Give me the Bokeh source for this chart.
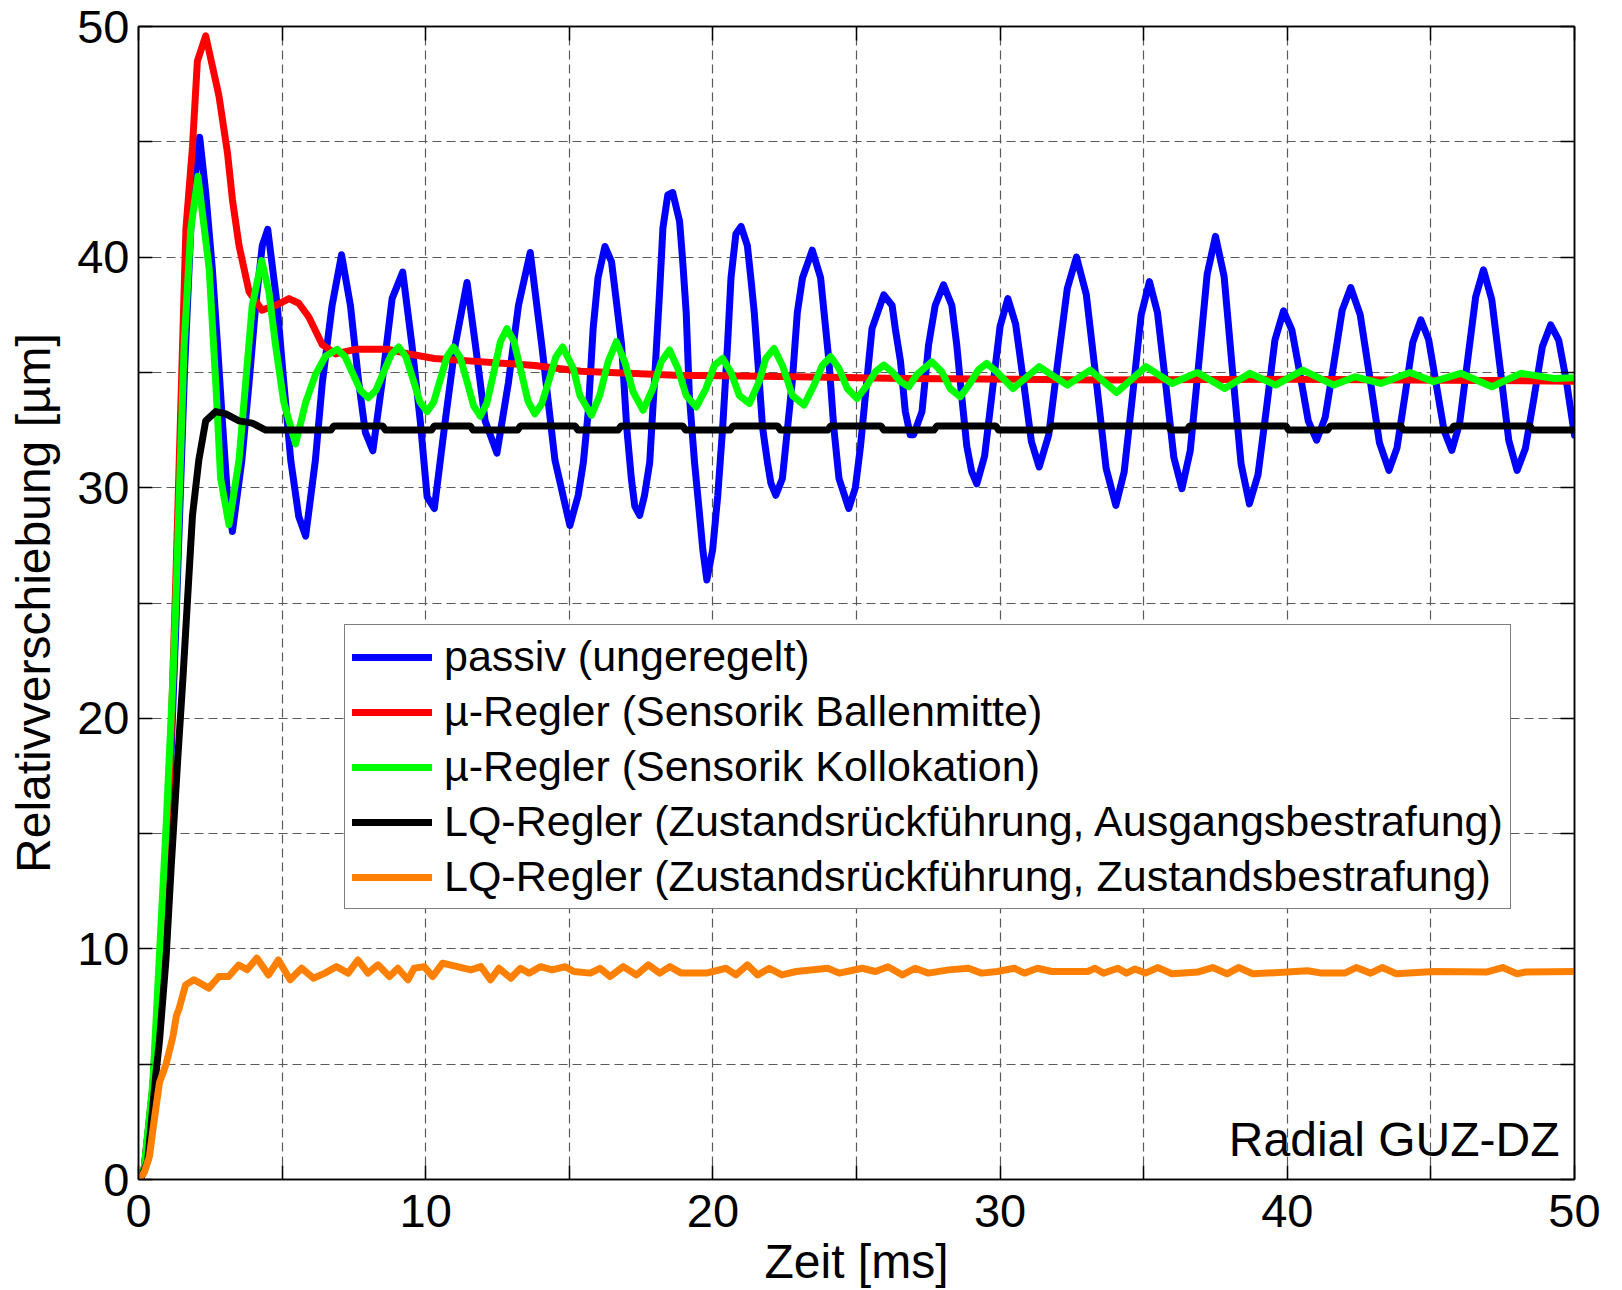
from bokeh.plotting import figure
from bokeh.models import Legend, LegendItem, LinearAxis, FixedTicker, Range1d, Label
from bokeh.embed import file_html
from bokeh.resources import INLINE

# ---------------- data ----------------
series_labels = [
    "passiv (ungeregelt)",
    "µ-Regler (Sensorik Ballenmitte)",
    "µ-Regler (Sensorik Kollokation)",
    "LQ-Regler (Zustandsrückführung, Ausgangsbestrafung)",
    "LQ-Regler (Zustandsrückführung, Zustandsbestrafung)",
]

t_passiv = [0, 0.2, 0.5, 0.8, 1.0, 1.3, 1.6, 1.85, 2.13, 2.34, 2.57, 2.75, 2.92, 3.1, 3.27,
            3.6, 3.85, 4.08, 4.31, 4.5, 4.83, 5.06, 5.3, 5.58, 5.82, 6.16, 6.4, 6.74, 7.07,
            7.38, 7.67, 7.9, 8.16, 8.48, 8.83, 9.2, 9.52, 9.81, 10.05, 10.3, 10.68, 11.03,
            11.44, 11.73, 12.07, 12.48, 12.88, 13.23, 13.64, 14.04, 14.5,
            15.02, 15.31, 15.49, 15.66, 15.83, 16.0, 16.24, 16.47, 16.64, 16.82, 17.0, 17.16,
            17.28, 17.45, 17.62, 17.8, 17.97, 18.14, 18.26, 18.43, 18.6, 18.84, 18.95, 19.07,
            19.18, 19.36, 19.53, 19.65, 19.79, 19.99, 20.17, 20.34, 20.51, 20.63, 20.8, 20.98,
            21.2, 21.32, 21.44, 21.61, 21.73, 21.9, 22.02, 22.19, 22.42, 22.6, 22.77, 22.94,
            23.12, 23.46, 23.75, 23.87, 24.04, 24.21, 24.39, 24.73, 24.96, 25.14, 25.31, 25.54,
            25.95, 26.24, 26.35, 26.53, 26.7, 26.87, 26.99, 27.28, 27.51, 27.74, 28.03, 28.32,
            28.49, 28.66, 28.84, 29.01, 29.19,
            29.46, 29.73, 30.0, 30.27, 30.54, 30.82, 31.09, 31.36, 31.69, 32.01, 32.34, 32.66,
            33.0, 33.35, 33.69, 34.03, 34.32, 34.62, 34.91, 35.2, 35.48, 35.77, 36.05, 36.33,
            36.62, 36.92, 37.21, 37.5, 37.8, 38.09, 38.39, 38.68, 38.98, 39.28, 39.57, 39.87,
            40.16, 40.45, 40.73, 41.02, 41.32, 41.62, 41.91, 42.21, 42.54, 42.88, 43.21, 43.54,
            43.82, 44.1, 44.37, 44.65, 44.92, 45.19, 45.46, 45.73, 46.0, 46.28, 46.56, 46.83,
            47.12, 47.42, 47.71, 48.0, 48.29, 48.59, 48.88, 49.17, 49.45, 49.72, 50]
y_passiv = [0, 0.5, 4, 10, 14, 24, 35, 42, 45.2, 42.8, 39.5, 36.2, 32.9, 29.6, 28.1,
            31.2, 34.55, 37.9, 40.5, 41.2, 37.9, 34.55, 31.2, 28.75, 27.9, 31.2, 34.55, 37.9, 40.1,
            37.9, 34.55, 32.4, 31.6, 34.55, 38.2, 39.35, 36.2, 32.9, 29.6, 29.1, 32.9, 36.2,
            38.9, 36.2, 32.9, 31.5, 34.55, 37.9, 40.2, 36.2, 31.2,
            28.36, 29.67, 31.1, 33.3, 36.9, 39.1, 40.46, 39.8, 38.07, 36.2, 32.6, 30.4,
            29.2, 28.8, 29.67, 31.1, 34.7, 38.4, 41.26, 42.7, 42.8, 41.55, 39.8, 37.6,
            34.0, 31.1, 28.9, 27.3, 26.0, 27.3, 29.67, 32.6, 36.2, 39.1, 41.0, 41.33,
            40.5, 39.1, 37.6, 34.7, 32.6, 31.1, 30.2, 29.67, 30.4, 32.6, 34.7, 37.6,
            39.1, 40.3, 39.1, 37.6, 35.5, 32.6, 30.4, 29.1, 30.0, 31.8, 34.0, 36.9,
            38.36, 37.9, 36.9, 35.5, 33.3, 32.3, 32.3, 33.3, 36.2, 37.9, 38.8, 37.9,
            36.2, 34.0, 31.8, 30.7, 30.17,
            31.37, 34.19, 37.0, 38.2, 37.1, 34.55, 32.0, 30.9, 32.27, 35.45, 38.64, 40.0,
            38.38, 34.62, 30.85, 29.23, 30.69, 34.09, 37.48, 38.94, 37.59, 34.45, 31.31, 29.96,
            31.6, 35.43, 39.26, 40.9, 39.16, 35.1, 31.04, 29.3, 30.56, 33.49, 36.41, 37.67,
            36.83, 34.87, 32.9, 32.06, 33.05, 35.37, 37.69, 38.68, 37.49, 34.72, 31.94, 30.75,
            31.73, 34.02, 36.3, 37.28, 36.43, 34.45, 32.47, 31.62, 32.79, 35.54, 38.28, 39.45,
            38.15, 35.1, 32.06, 30.75, 31.7, 33.9, 36.11, 37.06, 36.4, 34.6, 32.28]

t_ballen = [0, 0.2, 0.5, 0.8, 1.0, 1.3, 1.65, 1.88, 2.05, 2.34, 2.8, 3.1, 3.27, 3.5, 3.85,
            4.3, 4.77, 5.24, 5.58, 5.93, 6.4, 6.86, 7.55, 8.7, 9.4, 9.87, 10.3, 11.5, 12.65,
            13.8, 15.4, 18.7, 22.96, 26.6, 33.4, 40, 50]
y_ballen = [0, 0.5, 4, 10, 14, 26, 41.2, 44.8, 48.5, 49.6, 47.0, 44.5, 42.5, 40.5, 38.5,
            37.7, 37.9, 38.2, 38.0, 37.4, 36.2, 35.8, 36.0, 36.0, 35.8, 35.7, 35.6, 35.5, 35.4,
            35.3, 35.05, 34.88, 34.81, 34.74, 34.67, 34.7, 34.62]

t_kolloc = [0, 0.2, 0.5, 0.96, 1.2, 1.3, 1.59, 1.82, 2.07, 2.46, 2.69, 2.86, 3.15, 3.5, 3.73,
            3.96, 4.29, 4.54, 4.77, 5.06, 5.47, 5.82, 6.16, 6.51, 6.92,
            7.19, 7.46, 7.73, 8.0, 8.27, 8.53, 8.8, 9.06, 9.31, 9.56, 9.8, 10.05,
            10.28, 10.51, 10.74, 10.97, 11.2, 11.44, 11.67, 11.9, 12.13, 12.37, 12.6, 12.83,
            13.07, 13.32, 13.56, 13.8, 14.04, 14.29, 14.53, 14.77,
            15.14, 15.37, 15.77, 16.06, 16.35, 16.64, 16.93, 17.22, 17.57, 17.91, 18.2, 18.49,
            18.78, 19.07, 19.42, 19.76, 20.05, 20.34, 20.63, 20.92, 21.27, 21.61, 21.84, 22.13,
            22.42, 22.77, 23.17, 23.52, 23.81, 24.1, 24.39, 24.68, 25.02, 25.37, 25.66, 25.95,
            26.24, 26.53, 26.82, 27.1, 27.62, 27.97, 28.26, 28.61, 28.95, 29.24, 29.53, 29.88,
            30.45, 31.36, 32.34, 33.14, 34.06, 35.08, 35.99, 36.87, 37.82, 38.7, 39.59, 40.54,
            41.62, 42.37, 43.26, 44.27, 45.09, 46.04, 47.12, 48.13, 49.27, 50]
y_kolloc = [0, 0.5, 4.2, 15.3, 21.8, 25, 36.2, 41.2, 43.5, 39.5, 34.55, 30.4, 28.4, 31.2, 34.55,
            37.9, 39.85, 38.5, 36.2, 33.7, 31.9, 33.7, 34.9, 35.7, 36.0,
            35.69, 34.95, 34.22, 33.9, 34.23, 35.0, 35.77, 36.1, 35.68, 34.7, 33.72, 33.3,
            33.72, 34.7, 35.68, 36.1, 35.65, 34.6, 33.55, 33.1, 33.67, 35.0, 36.33, 36.9,
            36.35, 35.05, 33.76, 33.2, 33.64, 34.65, 35.67, 36.1,
            35.17, 34.0, 33.14, 34.0, 35.46, 36.33, 35.46, 34.16, 33.36, 34.3, 35.46, 35.97,
            35.17, 34.0, 33.5, 34.3, 35.3, 35.6, 35.0, 34.0, 33.65, 34.6, 35.6, 36.04,
            35.3, 34.0, 33.58, 34.45, 35.3, 35.68, 35.17, 34.3, 33.87, 34.45, 35.03, 35.32,
            35.03, 34.6, 34.38, 34.9, 35.46, 35.03, 34.3, 33.94, 34.52, 35.1, 35.39, 35.03,
            34.3, 35.25, 34.45, 35.1, 34.13, 35.25, 34.52, 35.0, 34.3, 34.96, 34.45, 35.1,
            34.45, 34.81, 34.52, 35.0, 34.6, 34.96, 34.38, 34.96, 34.74, 34.77]

t_lq_aus = [0, 0.1, 0.32, 0.6, 0.73, 0.96, 1.14, 1.38, 1.55, 1.7, 1.88, 2.1, 2.34, 2.69, 3.04,
            3.5, 3.96, 4.43, 6.7, 6.8, 8.5, 8.6, 10.2, 10.3, 11.55, 11.65, 13.2, 13.3,
            15.2, 15.3, 16.7, 16.8, 18.95, 19.05, 20.6, 20.7, 22.25, 22.35,
            24.0, 24.1, 25.85, 25.95, 27.7, 27.8, 29.85, 29.95, 31.7, 31.8,
            35.85, 35.95, 36.5, 36.6, 39.95, 40.05, 41.4, 41.5, 43.95, 44.05,
            45.7, 45.8, 48.45, 48.55, 50]
y_lq_aus = [0, 0.1, 0.8, 4.5, 6.0, 9.6, 13.6, 18.5, 21.8, 25, 28.8, 31.2, 32.9, 33.3, 33.2,
            32.9, 32.8, 32.5, 32.5, 32.68, 32.68, 32.5, 32.5, 32.68, 32.68, 32.5, 32.5, 32.68,
            32.68, 32.5, 32.5, 32.68, 32.68, 32.5, 32.5, 32.68, 32.68, 32.5,
            32.5, 32.68, 32.68, 32.5, 32.5, 32.68, 32.68, 32.5, 32.5, 32.68,
            32.68, 32.5, 32.5, 32.68, 32.68, 32.5, 32.5, 32.68, 32.68, 32.5,
            32.5, 32.68, 32.68, 32.5, 32.5]

t_lq_zus = [0, 0.2, 0.38, 0.55, 0.73, 0.96, 1.2, 1.32, 1.41, 1.64,
            1.93, 2.45, 2.8, 3.14, 3.49, 3.78, 4.12, 4.53, 4.87, 5.28,
            5.68, 6.09, 6.49, 6.89, 7.3, 7.64, 7.99, 8.34, 8.74, 9.03,
            9.38, 9.6, 9.95, 10.24, 10.59, 11.1, 11.57, 11.92, 12.26, 12.55,
            12.96, 13.3, 13.6, 14.0, 14.4, 14.86, 15.15, 15.73, 16.07, 16.42,
            16.88, 17.34, 17.75, 18.15, 18.5, 18.9, 19.77, 20.46, 20.8, 21.2,
            21.56, 21.96, 22.4, 22.9, 24.0, 24.4, 25.2, 25.66, 26.1, 26.6,
            27.04, 27.5, 28.2, 28.9, 29.35, 29.9, 30.5, 30.85, 31.3, 31.8,
            33.05, 33.3, 33.6, 34.1, 34.4, 34.7, 35.06, 35.5, 35.98, 36.9,
            37.4, 37.9, 38.3, 38.8, 40.0, 40.7, 41.2, 42.0, 42.4, 42.9,
            43.3, 43.8, 45.1, 46.96, 47.5, 48.0, 48.3, 50]
y_lq_zus = [0, 0.3, 1.0, 2.6, 4.2, 5.0, 6.2, 7.1, 7.4, 8.44,
            8.66, 8.3, 8.8, 8.8, 9.3, 9.1, 9.6, 8.87, 9.52, 8.66,
            9.16, 8.73, 8.95, 9.23, 8.95, 9.52, 8.95, 9.31, 8.8, 9.16,
            8.66, 9.16, 9.23, 8.8, 9.38, 9.23, 9.09, 9.23, 8.66, 9.16,
            8.73, 9.16, 8.95, 9.23, 9.09, 9.23, 9.02, 8.95, 9.16, 8.8,
            9.23, 8.87, 9.31, 8.95, 9.23, 8.95, 8.95, 9.16, 8.87, 9.31,
            8.87, 9.16, 8.87, 9.02, 9.16, 8.95, 9.16, 9.02, 9.23, 8.87,
            9.16, 8.95, 9.09, 9.16, 8.95, 9.02, 9.16, 8.95, 9.16, 9.02,
            9.02, 9.16, 8.95, 9.16, 8.95, 9.13, 8.95, 9.19, 8.92, 9.0,
            9.19, 8.92, 9.19, 8.92, 9.0, 9.05, 8.95, 8.95, 9.19, 8.95,
            9.19, 8.92, 9.02, 9.0, 9.19, 8.92, 9.0, 9.02]

major_ticks = [0, 10, 20, 30, 40, 50]
minor_ticks = [5, 15, 25, 35, 45]
grid_ticks = [0, 5, 10, 15, 20, 25, 30, 35, 40, 45, 50]
x_label = "Zeit [ms]"
y_label = "Relativverschiebung [µm]"
note_text = "Radial GUZ-DZ"

# ---------------- figure ----------------
FONT = "Liberation Sans"
colors = ["#0000FF", "#FF0000", "#00FF00", "#000000", "#FF8000"]

p = figure(width=1622, height=1290, output_backend="svg", toolbar_location=None,
           x_range=Range1d(0, 50), y_range=Range1d(0, 50),
           min_border_left=138, min_border_right=48, min_border_top=26, min_border_bottom=111)
p.background_fill_color = "white"
p.border_fill_color = "white"
p.outline_line_color = "black"
p.outline_line_width = 1.5

for ax in (p.xaxis[0], p.yaxis[0]):
    ax.ticker = FixedTicker(ticks=major_ticks, minor_ticks=minor_ticks)
    ax.major_tick_in = 14
    ax.major_tick_out = 0
    ax.minor_tick_in = 14
    ax.minor_tick_out = 0
    ax.axis_line_width = 1.5
    ax.major_tick_line_width = 1.5
    ax.minor_tick_line_width = 1.5
    ax.major_label_text_font = FONT
    ax.major_label_text_font_size = "47px"
    ax.major_label_text_color = "black"
    ax.axis_label_text_font = FONT
    ax.axis_label_text_font_size = "48px"
    ax.axis_label_text_font_style = "normal"
    ax.axis_label_text_color = "black"

p.xaxis.axis_label = x_label
p.yaxis.axis_label = y_label
p.xaxis.major_label_standoff = 15
p.yaxis.major_label_standoff = 9
p.xaxis.axis_label_standoff = 5
p.yaxis.axis_label_standoff = 14

for side in ("right", "above"):
    a = LinearAxis(ticker=FixedTicker(ticks=[], minor_ticks=grid_ticks),
                   major_label_standoff=0,
                   major_tick_in=0, major_tick_out=0, minor_tick_in=14, minor_tick_out=0,
                   axis_line_width=1.5, minor_tick_line_width=1.5)
    p.add_layout(a, side)

for g in (p.xgrid[0], p.ygrid[0]):
    g.ticker = FixedTicker(ticks=grid_ticks)
    g.grid_line_color = "#5a5a5a"
    g.grid_line_dash = "9 5"
    g.grid_line_width = 1.2

series = [(t_passiv, y_passiv), (t_ballen, y_ballen), (t_kolloc, y_kolloc),
          (t_lq_aus, y_lq_aus), (t_lq_zus, y_lq_zus)]
renderers = []
for (tx, ty), c in zip(series, colors):
    r = p.line(tx, ty, line_color=c, line_width=7, line_join="round", line_cap="round")
    renderers.append(r)

items = [LegendItem(label=lab, renderers=[r]) for lab, r in zip(series_labels, renderers)]
legend = Legend(items=items, location=(206, 270),
                label_text_font=FONT, label_text_font_size="43px", label_text_color="black",
                glyph_width=80, glyph_height=48, label_height=48, label_standoff=12,
                spacing=6, padding=7, margin=0,
                border_line_color="black", border_line_width=1.5,
                background_fill_color="white", background_fill_alpha=1.0)
p.add_layout(legend)

p.add_layout(Label(x=49.48, y=1.73, text=note_text, text_align="right",
                   text_baseline="alphabetic", text_font=FONT, text_font_size="48px",
                   text_color="black"))

open("out.html", "w").write(file_html(p, INLINE))
